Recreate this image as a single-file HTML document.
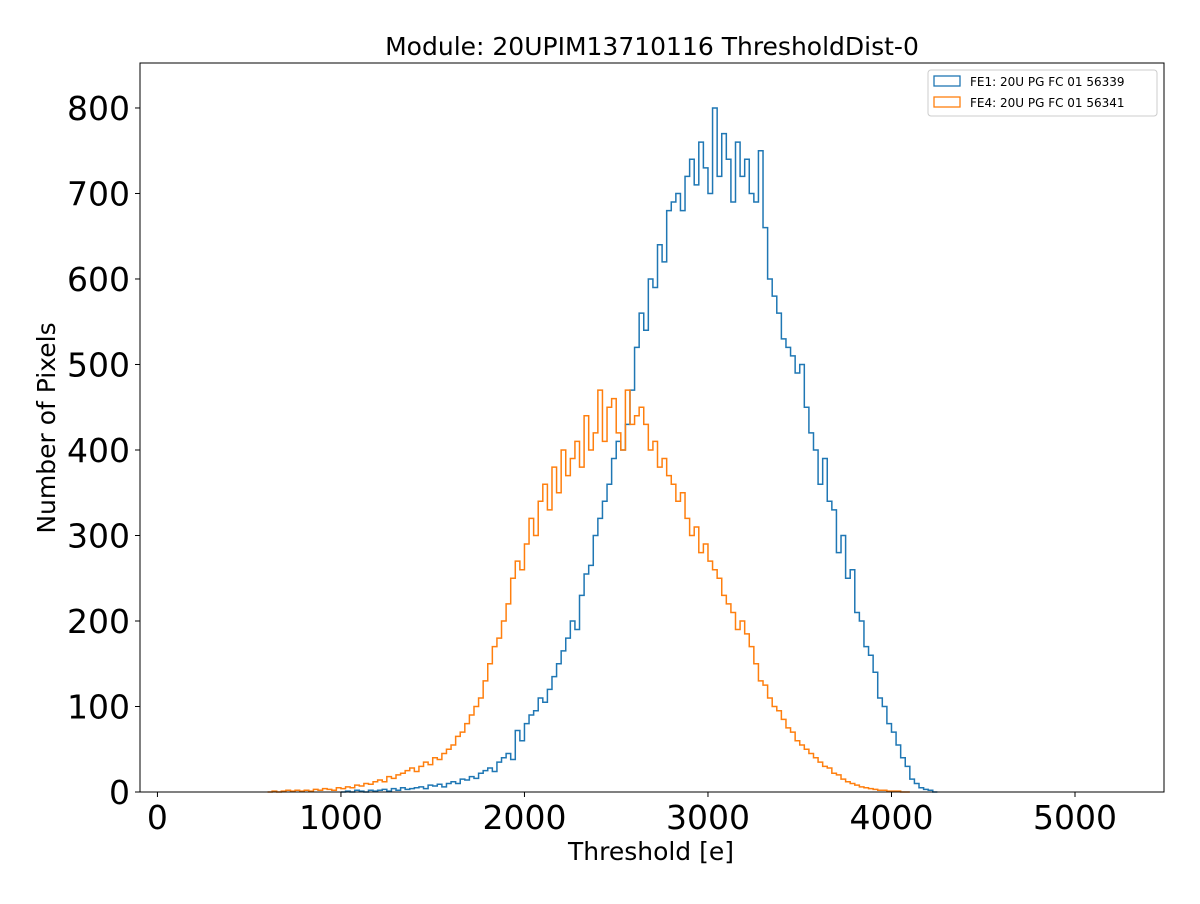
<!DOCTYPE html>
<html><head><meta charset="utf-8"><style>
body{margin:0;background:#fff;font-family:"DejaVu Sans","Liberation Sans",sans-serif;}
</style></head><body>
<svg id="chart" width="1200" height="900" xmlns="http://www.w3.org/2000/svg">
<rect width="1200" height="900" fill="#fff"/>
<text x="652" y="55" font-size="25" text-anchor="middle">Module: 20UPIM13710116 ThresholdDist-0</text>
<g id="series"></g>
<g id="axes"></g>
<rect x="140" y="63" width="1024" height="729" fill="none" stroke="#000" stroke-width="1"/>
<text x="651" y="860" font-size="25" text-anchor="middle">Threshold [e]</text>
<text transform="translate(55,428) rotate(-90)" font-size="25" text-anchor="middle">Number of Pixels</text>
<g>
<rect x="928" y="70" width="229" height="46" rx="3" fill="#fff" stroke="#ccc"/>
<rect x="934" y="76" width="26" height="10" fill="none" stroke="#1f77b4" stroke-width="1.3"/>
<text x="970" y="86" font-size="12">FE1: 20U PG FC 01 56339</text>
<rect x="934" y="97" width="26" height="10" fill="none" stroke="#ff7f0e" stroke-width="1.3"/>
<text x="970" y="107" font-size="12">FE4: 20U PG FC 01 56341</text>
</g>
</svg>
<script>
const binWidth = 25;
const fe1Start = 1000;
const fe1Counts = [0,1,0,2,1,0,2,1, 2,3,1,4,2,5,3,4, 5,6,4,8,7,9,6,10, 12,10,15,14,18,16,22,25,
 28,24,35,40,45,38,72,60, 80,90,95,110,105,120,135,150, 165,180,200,190,230,255,265,300,
 320,340,360,390,410,400,430,470, 520,560,540,600,590,640,620,680, 690,700,680,720,740,710,760,730,
 700,800,720,770,740,690,760,720, 740,700,690,750,660,600,580,560, 530,520,510,490,500,450,420,400,
 360,390,340,330,280,300,250,260, 210,200,170,160,140,110,100,80, 70,55,40,30,15,10,5,3, 2,0];
const fe4Start = 600;
const fe4Counts = [0,1,0,1,2,1,2,1, 2,1,3,2,4,3,2,5, 4,6,5,8,7,10,9,12, 14,12,18,16,20,22,25,28,
 24,30,35,32,40,38,45,50, 55,65,70,80,90,100,110,130, 150,170,180,200,220,250,270,260,
 290,320,300,340,360,330,380,350, 400,370,390,410,380,440,400,420, 470,410,450,460,420,400,470,430,
 440,450,430,400,410,380,390,370, 360,340,350,320,300,310,280,290, 270,260,250,230,220,210,190,200,
 185,170,150,130,125,110,100,95, 85,75,70,60,55,50,45,40, 35,30,28,22,20,15,12,10, 8,6,5,4,3,2,2,1, 1,1,0,0];
const xTicks = [0,1000,2000,3000,4000,5000];
const yTicks = [0,100,200,300,400,500,600,700,800];

const X0=140,X1=1164,Y0=792,Y1=63;
const xMin=-95,xMax=5485,yMax=852.6;
const sx=v=>X0+(v-xMin)/(xMax-xMin)*(X1-X0);
const sy=v=>Y0-v/yMax*(Y0-Y1);
const NS="http://www.w3.org/2000/svg";
const series=document.getElementById('series');
function hist(start,counts,color,name){
  let d=`M${sx(start)},${sy(0)}`;
  counts.forEach((c,i)=>{const a=start+i*binWidth;d+=` L${sx(a)},${sy(c)} L${sx(a+binWidth)},${sy(c)}`;});
  d+=` L${sx(start+counts.length*binWidth)},${sy(0)}`;
  const p=document.createElementNS(NS,'path');
  p.setAttribute('d',d);p.setAttribute('fill','none');p.setAttribute('stroke',color);p.setAttribute('stroke-width','1.5');
  
  
  series.appendChild(p);
}
hist(fe1Start,fe1Counts,'#1f77b4','fe1-histogram');
hist(fe4Start,fe4Counts,'#ff7f0e','fe4-histogram');
const axes=document.getElementById('axes');
xTicks.forEach(t=>{
  const l=document.createElementNS(NS,'line');
  l.setAttribute('x1',sx(t));l.setAttribute('x2',sx(t));l.setAttribute('y1',Y0);l.setAttribute('y2',Y0+5);l.setAttribute('stroke','#000');
  
  
  axes.appendChild(l);
  const tx=document.createElementNS(NS,'text');
  tx.setAttribute('x',sx(t));tx.setAttribute('y',Y0+37);tx.setAttribute('font-size','33');tx.setAttribute('text-anchor','middle');
  tx.textContent=t;
  
  
  axes.appendChild(tx);
});
yTicks.forEach(t=>{
  const l=document.createElementNS(NS,'line');
  l.setAttribute('x1',X0-5);l.setAttribute('x2',X0);l.setAttribute('y1',sy(t));l.setAttribute('y2',sy(t));l.setAttribute('stroke','#000');
  
  
  axes.appendChild(l);
  const tx=document.createElementNS(NS,'text');
  tx.setAttribute('x',X0-10);tx.setAttribute('y',sy(t)+12);tx.setAttribute('font-size','33');tx.setAttribute('text-anchor','end');
  tx.textContent=t;
  
  
  axes.appendChild(tx);
});
</script>
</body></html>
